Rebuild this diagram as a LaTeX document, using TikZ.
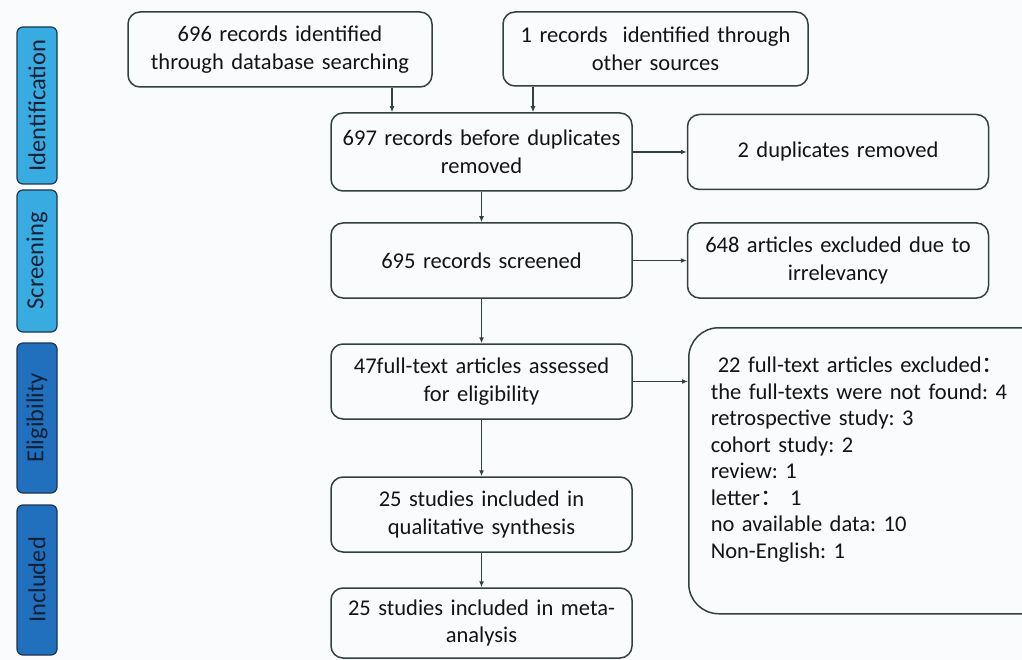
\documentclass[tikz,border=0pt]{standalone}
\usepackage{fontspec}
\setmainfont{Carlito}
\newfontfamily\cjk{Noto Sans CJK SC}
\usepackage{tikz}
\usetikzlibrary{arrows.meta, positioning}
\frenchspacing
\definecolor{pageBg}{HTML}{FAFBFD}
\definecolor{boxStroke}{HTML}{33403F}
\definecolor{boxTxt}{HTML}{141414}
\definecolor{lightFill}{HTML}{38ABE1}
\definecolor{darkFill}{HTML}{2070BD}
\definecolor{stageStroke}{HTML}{1D3550}
\definecolor{stageTxt}{HTML}{102036}
\tikzset{
  base/.style={
    rectangle, rounded corners=12pt,
    align=center, inner sep=4pt,
    draw=boxStroke, line width=1.5pt,
    fill=pageBg, text=boxTxt,
    font=\fontsize{22.5}{27.5}\selectfont
  },
  flow/.style={base, minimum width=301pt, minimum height=75pt, text width=285pt},
  stage/.style={
    rectangle, rounded corners=6pt, rotate=90,
    minimum height=40pt, inner sep=2pt,
    draw=stageStroke, line width=1.2pt, text=stageTxt,
    font=\fontsize{24.5}{28}\selectfont
  },
  light/.style={stage, fill=lightFill},
  dark/.style={stage, fill=darkFill},
  link/.style={-{Latex[length=6pt,width=5pt]}, draw=boxStroke, line width=1.3pt},
}

\begin{document}
\begin{tikzpicture}[x=1pt, y=-1pt]
    \fill[pageBg] (0,0) rectangle (1022,660);
    \clip (0,0) rectangle (1022,660);

    % stages
    \node[light, minimum width=157pt] (ident) at (37,105.5) {Identification};
    \node[light, minimum width=142pt] (screen) at (37,261) {Screening};
    \node[dark, minimum width=150pt] (elig) at (37,418) {Eligibility};
    \node[dark, minimum width=150pt] (incl) at (37,580) {Included};

    % main flow
    \node[flow, minimum width=304pt] (db) at (280,49.5) {696 records identified\\through database searching};
    \node[flow, minimum width=305pt, minimum height=74pt] (other) at (655.5,49) {1 records~ identified through\\other sources};
    \node[flow, minimum height=78pt] (dup) at (481.5,152) {697 records before duplicates\\removed};
    \node[flow, right=54pt of dup] (rm) {2 duplicates removed};
    \node[flow, below=30.5pt of dup] (scr) {695 records screened};
    \node[flow, right=54pt of scr] (irr) {648 articles excluded due to\\irrelevancy};
    \node[flow, below=44.5pt of scr] (full) {47full-text articles assessed\\for eligibility};
    \node[flow, below=56.5pt of full] (qual) {25 studies included in\\qualitative synthesis};
    \node[flow, below=34.5pt of qual, minimum height=70pt] (meta) {25 studies included in meta-\\analysis};

    \node[base, rounded corners=30pt, anchor=north west, align=left,
          font=\fontsize{22.5}{26.5}\selectfont,
          inner xsep=22pt, text width=330pt, minimum height=286pt] (excl) at (688,327)
      {\hspace{7pt}22 full-text articles excluded{\cjk ：}\\
       the full-texts were not found: 4\\
       retrospective study: 3\\
       cohort study: 2\\
       review: 1\\
       letter{\cjk ：} 1\\
       no available data: 10\\
       Non-English: 1\\
       \mbox{}};

    \draw[link] ([xshift=112pt]db.south) -- ([xshift=112pt]db.south |- dup.north);
    \draw[link] ([xshift=-122.5pt]other.south) -- ([xshift=-122.5pt]other.south |- dup.north);
    \draw[link] (dup) -- (rm);
    \draw[link] (dup) -- (scr);
    \draw[link] (scr) -- (irr);
    \draw[link] (scr) -- (full);
    \draw[link] (full.east) -- (full.east -| excl.west);
    \draw[link] (full) -- (qual);
    \draw[link] (qual) -- (meta);
\end{tikzpicture}
\end{document}
